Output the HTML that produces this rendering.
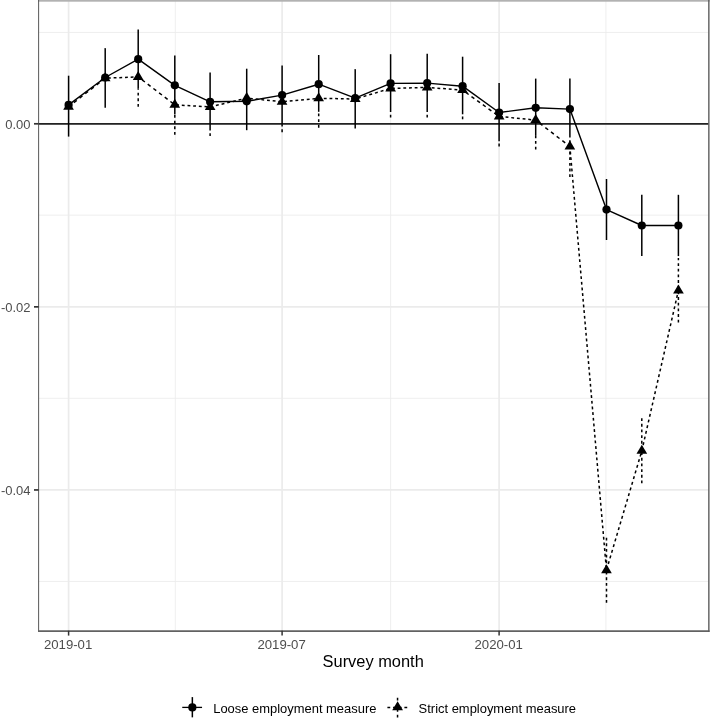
<!DOCTYPE html>
<html><head><meta charset="utf-8"><title>Survey month chart</title>
<style>html,body{margin:0;padding:0;background:#fff}body{width:710px;height:719px;overflow:hidden}</style></head>
<body>
<svg width="710" height="719" viewBox="0 0 710 719" style="display:block;font-family:'Liberation Sans',sans-serif">
<rect x="0" y="0" width="710" height="719" fill="#fff"/>
<line x1="38.7" x2="708.7" y1="32.45" y2="32.45" stroke="#ebebeb" stroke-width="0.85"/>
<line x1="38.7" x2="708.7" y1="215.15" y2="215.15" stroke="#ebebeb" stroke-width="0.85"/>
<line x1="38.7" x2="708.7" y1="398.3" y2="398.3" stroke="#ebebeb" stroke-width="0.85"/>
<line x1="38.7" x2="708.7" y1="581.45" y2="581.45" stroke="#ebebeb" stroke-width="0.85"/>
<line x1="38.7" x2="708.7" y1="123.8" y2="123.8" stroke="#ebebeb" stroke-width="1.7"/>
<line x1="38.7" x2="708.7" y1="306.85" y2="306.85" stroke="#ebebeb" stroke-width="1.7"/>
<line x1="38.7" x2="708.7" y1="489.95" y2="489.95" stroke="#ebebeb" stroke-width="1.7"/>
<line x1="175.3" x2="175.3" y1="0.8" y2="630.7" stroke="#ebebeb" stroke-width="0.85"/>
<line x1="390.6" x2="390.6" y1="0.8" y2="630.7" stroke="#ebebeb" stroke-width="0.85"/>
<line x1="605.9" x2="605.9" y1="0.8" y2="630.7" stroke="#ebebeb" stroke-width="0.85"/>
<line x1="68.6" x2="68.6" y1="0.8" y2="630.7" stroke="#ebebeb" stroke-width="1.7"/>
<line x1="282.1" x2="282.1" y1="0.8" y2="630.7" stroke="#ebebeb" stroke-width="1.7"/>
<line x1="499.1" x2="499.1" y1="0.8" y2="630.7" stroke="#ebebeb" stroke-width="1.7"/>
<line x1="38.7" x2="708.7" y1="123.8" y2="123.8" stroke="#222" stroke-width="1.65"/>
<line x1="105.2" x2="105.2" y1="48.3" y2="48" stroke="#000" stroke-width="1.5" stroke-dasharray="2.832 2.832" stroke-dashoffset="2.06"/>
<line x1="138.2" x2="138.2" y1="106.8" y2="88.2" stroke="#000" stroke-width="1.5" stroke-dasharray="2.832 2.832"/>
<line x1="174.8" x2="174.8" y1="134.8" y2="114.5" stroke="#000" stroke-width="1.5" stroke-dasharray="2.832 2.832"/>
<line x1="210.1" x2="210.1" y1="136.0" y2="130.4" stroke="#000" stroke-width="1.5" stroke-dasharray="2.832 2.832"/>
<line x1="246.7" x2="246.7" y1="68.7" y2="68" stroke="#000" stroke-width="1.5" stroke-dasharray="2.832 2.832" stroke-dashoffset="3.66"/>
<line x1="282.1" x2="282.1" y1="132.2" y2="124.2" stroke="#000" stroke-width="1.5" stroke-dasharray="2.832 2.832"/>
<line x1="318.7" x2="318.7" y1="127.7" y2="111.8" stroke="#000" stroke-width="1.5" stroke-dasharray="2.832 2.832"/>
<line x1="355.2" x2="355.2" y1="69.2" y2="69" stroke="#000" stroke-width="1.5" stroke-dasharray="2.832 2.832" stroke-dashoffset="2.16"/>
<line x1="390.6" x2="390.6" y1="117.6" y2="111.0" stroke="#000" stroke-width="1.5" stroke-dasharray="2.832 2.832"/>
<line x1="427.2" x2="427.2" y1="117.6" y2="111.0" stroke="#000" stroke-width="1.5" stroke-dasharray="2.832 2.832"/>
<line x1="462.6" x2="462.6" y1="119.3" y2="114.3" stroke="#000" stroke-width="1.5" stroke-dasharray="2.832 2.832"/>
<line x1="499.1" x2="499.1" y1="146.4" y2="141.3" stroke="#000" stroke-width="1.5" stroke-dasharray="2.832 2.832"/>
<line x1="535.7" x2="535.7" y1="149.5" y2="135.9" stroke="#000" stroke-width="1.5" stroke-dasharray="2.832 2.832"/>
<line x1="569.9" x2="569.9" y1="177.1" y2="137.4" stroke="#000" stroke-width="1.5" stroke-dasharray="2.832 2.832"/>
<line x1="606.5" x2="606.5" y1="602.8" y2="536.7" stroke="#000" stroke-width="1.5" stroke-dasharray="2.832 2.832"/>
<line x1="641.8" x2="641.8" y1="483.3" y2="418.0" stroke="#000" stroke-width="1.5" stroke-dasharray="2.832 2.832"/>
<line x1="678.4" x2="678.4" y1="322.6" y2="258.0" stroke="#000" stroke-width="1.5" stroke-dasharray="2.832 2.832"/>
<line x1="68.6" x2="68.6" y1="75.7" y2="136.6" stroke="#000" stroke-width="1.5"/>
<line x1="105.2" x2="105.2" y1="48.3" y2="107.8" stroke="#000" stroke-width="1.5"/>
<line x1="138.2" x2="138.2" y1="29.6" y2="88.2" stroke="#000" stroke-width="1.5"/>
<line x1="174.8" x2="174.8" y1="55.4" y2="114.5" stroke="#000" stroke-width="1.5"/>
<line x1="210.1" x2="210.1" y1="72.6" y2="130.4" stroke="#000" stroke-width="1.5"/>
<line x1="246.7" x2="246.7" y1="68.7" y2="130.2" stroke="#000" stroke-width="1.5"/>
<line x1="282.1" x2="282.1" y1="65.4" y2="124.2" stroke="#000" stroke-width="1.5"/>
<line x1="318.7" x2="318.7" y1="55.0" y2="111.8" stroke="#000" stroke-width="1.5"/>
<line x1="355.2" x2="355.2" y1="69.2" y2="128.5" stroke="#000" stroke-width="1.5"/>
<line x1="390.6" x2="390.6" y1="54.2" y2="111.0" stroke="#000" stroke-width="1.5"/>
<line x1="427.2" x2="427.2" y1="53.7" y2="111.0" stroke="#000" stroke-width="1.5"/>
<line x1="462.6" x2="462.6" y1="56.7" y2="114.3" stroke="#000" stroke-width="1.5"/>
<line x1="499.1" x2="499.1" y1="83.1" y2="141.3" stroke="#000" stroke-width="1.5"/>
<line x1="535.7" x2="535.7" y1="78.6" y2="135.9" stroke="#000" stroke-width="1.5"/>
<line x1="569.9" x2="569.9" y1="78.6" y2="137.4" stroke="#000" stroke-width="1.5"/>
<line x1="606.5" x2="606.5" y1="179.0" y2="240.0" stroke="#000" stroke-width="1.5"/>
<line x1="641.8" x2="641.8" y1="194.8" y2="256.1" stroke="#000" stroke-width="1.5"/>
<line x1="678.4" x2="678.4" y1="194.8" y2="256.1" stroke="#000" stroke-width="1.5"/>
<polyline points="68.6,104.9 105.2,77.5 138.2,59.2 174.8,85.3 210.1,101.8 246.7,101.3 282.1,95.1 318.7,84.2 355.2,98.2 390.6,83.4 427.2,83.1 462.6,86.2 499.1,112.5 535.7,107.8 569.9,109.1 606.5,209.6 641.8,225.5 678.4,225.5" fill="none" stroke="#000" stroke-width="1.42" stroke-linejoin="round"/>
<line x1="68.60" y1="106.70" x2="105.16" y2="78.20" stroke="#000" stroke-width="1.5" stroke-dasharray="3.601 3.601" stroke-dashoffset="0.494"/>
<line x1="105.16" y1="78.20" x2="138.19" y2="76.90" stroke="#000" stroke-width="1.5" stroke-dasharray="2.842 2.842" stroke-dashoffset="2.877"/>
<line x1="138.19" y1="76.90" x2="174.75" y2="104.80" stroke="#000" stroke-width="1.5" stroke-dasharray="3.572 3.572" stroke-dashoffset="2.290"/>
<line x1="174.75" y1="104.80" x2="210.14" y2="106.90" stroke="#000" stroke-width="1.5" stroke-dasharray="2.845 2.845" stroke-dashoffset="4.313"/>
<line x1="210.14" y1="106.90" x2="246.70" y2="98.10" stroke="#000" stroke-width="1.5" stroke-dasharray="2.921 2.921" stroke-dashoffset="5.770"/>
<line x1="246.70" y1="98.10" x2="282.09" y2="101.80" stroke="#000" stroke-width="1.5" stroke-dasharray="2.855 2.855" stroke-dashoffset="2.428"/>
<line x1="282.09" y1="101.80" x2="318.65" y2="98.30" stroke="#000" stroke-width="1.5" stroke-dasharray="2.853 2.853" stroke-dashoffset="3.737"/>
<line x1="318.65" y1="98.30" x2="355.22" y2="99.00" stroke="#000" stroke-width="1.5" stroke-dasharray="2.841 2.841" stroke-dashoffset="0.524"/>
<line x1="355.22" y1="99.00" x2="390.60" y2="88.40" stroke="#000" stroke-width="1.5" stroke-dasharray="2.965 2.965" stroke-dashoffset="3.141"/>
<line x1="390.60" y1="88.40" x2="427.17" y2="87.40" stroke="#000" stroke-width="1.5" stroke-dasharray="2.841 2.841" stroke-dashoffset="4.315"/>
<line x1="427.17" y1="87.40" x2="462.55" y2="90.10" stroke="#000" stroke-width="1.5" stroke-dasharray="2.848 2.848" stroke-dashoffset="1.121"/>
<line x1="462.55" y1="90.10" x2="499.12" y2="116.40" stroke="#000" stroke-width="1.5" stroke-dasharray="3.498 3.498" stroke-dashoffset="2.985"/>
<line x1="499.12" y1="116.40" x2="535.68" y2="120.10" stroke="#000" stroke-width="1.5" stroke-dasharray="2.855 2.855" stroke-dashoffset="4.933"/>
<line x1="535.68" y1="120.10" x2="569.89" y2="146.50" stroke="#000" stroke-width="1.5" stroke-dasharray="3.587 3.587" stroke-dashoffset="2.163"/>
<line x1="569.89" y1="146.50" x2="606.45" y2="570.20" stroke="#000" stroke-width="1.5" stroke-dasharray="2.843 2.843" stroke-dashoffset="0.606"/>
<line x1="606.45" y1="570.20" x2="641.84" y2="450.80" stroke="#000" stroke-width="1.5" stroke-dasharray="2.954 2.954" stroke-dashoffset="5.390"/>
<line x1="641.84" y1="450.80" x2="678.40" y2="290.50" stroke="#000" stroke-width="1.5" stroke-dasharray="2.905 2.905" stroke-dashoffset="5.768"/>
<circle cx="68.6" cy="104.9" r="4.1" fill="#000"/>
<circle cx="105.2" cy="77.5" r="4.1" fill="#000"/>
<circle cx="138.2" cy="59.2" r="4.1" fill="#000"/>
<circle cx="174.8" cy="85.3" r="4.1" fill="#000"/>
<circle cx="210.1" cy="101.8" r="4.1" fill="#000"/>
<circle cx="246.7" cy="101.3" r="4.1" fill="#000"/>
<circle cx="282.1" cy="95.1" r="4.1" fill="#000"/>
<circle cx="318.7" cy="84.2" r="4.1" fill="#000"/>
<circle cx="355.2" cy="98.2" r="4.1" fill="#000"/>
<circle cx="390.6" cy="83.4" r="4.1" fill="#000"/>
<circle cx="427.2" cy="83.1" r="4.1" fill="#000"/>
<circle cx="462.6" cy="86.2" r="4.1" fill="#000"/>
<circle cx="499.1" cy="112.5" r="4.1" fill="#000"/>
<circle cx="535.7" cy="107.8" r="4.1" fill="#000"/>
<circle cx="569.9" cy="109.1" r="4.1" fill="#000"/>
<circle cx="606.5" cy="209.6" r="4.1" fill="#000"/>
<circle cx="641.8" cy="225.5" r="4.1" fill="#000"/>
<circle cx="678.4" cy="225.5" r="4.1" fill="#000"/>
<polygon points="68.6,100.7 63.2,109.7 73.9,109.7" fill="#000"/>
<polygon points="105.2,72.2 99.8,81.2 110.5,81.2" fill="#000"/>
<polygon points="138.2,70.9 132.8,79.9 143.5,79.9" fill="#000"/>
<polygon points="174.8,98.8 169.4,107.8 180.1,107.8" fill="#000"/>
<polygon points="210.1,100.9 204.8,109.9 215.5,109.9" fill="#000"/>
<polygon points="246.7,92.1 241.4,101.1 252.1,101.1" fill="#000"/>
<polygon points="282.1,95.8 276.7,104.8 287.4,104.8" fill="#000"/>
<polygon points="318.7,92.3 313.3,101.3 324.0,101.3" fill="#000"/>
<polygon points="355.2,93.0 349.9,102.0 360.6,102.0" fill="#000"/>
<polygon points="390.6,82.4 385.3,91.4 396.0,91.4" fill="#000"/>
<polygon points="427.2,81.4 421.8,90.4 432.5,90.4" fill="#000"/>
<polygon points="462.6,84.1 457.2,93.1 467.9,93.1" fill="#000"/>
<polygon points="499.1,110.4 493.8,119.4 504.5,119.4" fill="#000"/>
<polygon points="535.7,114.1 530.3,123.1 541.0,123.1" fill="#000"/>
<polygon points="569.9,140.5 564.5,149.5 575.2,149.5" fill="#000"/>
<polygon points="606.5,564.2 601.1,573.2 611.8,573.2" fill="#000"/>
<polygon points="641.8,444.8 636.5,453.8 647.2,453.8" fill="#000"/>
<polygon points="678.4,284.5 673.1,293.5 683.8,293.5" fill="#000"/>
<rect x="38.1" y="0" width="671.6" height="1.7" fill="#b2b2b2"/>
<line x1="38.62" x2="38.62" y1="0" y2="631.9" stroke="#585858" stroke-width="1.0"/>
<line x1="38.1" x2="709.55" y1="631.1" y2="631.1" stroke="#626262" stroke-width="1.65"/>
<line x1="708.85" x2="708.85" y1="0" y2="631.9" stroke="#5c5c5c" stroke-width="1.4"/>
<line x1="34.0" x2="38.7" y1="123.8" y2="123.8" stroke="#333" stroke-width="1.7"/>
<line x1="34.0" x2="38.7" y1="306.85" y2="306.85" stroke="#333" stroke-width="1.7"/>
<line x1="34.0" x2="38.7" y1="489.95" y2="489.95" stroke="#333" stroke-width="1.7"/>
<line x1="68.6" x2="68.6" y1="630.7" y2="635.6" stroke="#333" stroke-width="1.5"/>
<line x1="282.1" x2="282.1" y1="630.7" y2="635.6" stroke="#333" stroke-width="1.5"/>
<line x1="499.1" x2="499.1" y1="630.7" y2="635.6" stroke="#333" stroke-width="1.5"/>
<text x="30.55" y="129.30" text-anchor="end" font-size="13" fill="#4d4d4d">0.00</text>
<text x="30.55" y="312.35" text-anchor="end" font-size="13" fill="#4d4d4d">-0.02</text>
<text x="30.55" y="495.45" text-anchor="end" font-size="13" fill="#4d4d4d">-0.04</text>
<text x="68.1" y="648.85" text-anchor="middle" font-size="13.2" fill="#4d4d4d">2019-01</text>
<text x="281.6" y="648.85" text-anchor="middle" font-size="13.2" fill="#4d4d4d">2019-07</text>
<text x="498.7" y="648.85" text-anchor="middle" font-size="13.2" fill="#4d4d4d">2020-01</text>
<text x="373.2" y="667.45" text-anchor="middle" font-size="16.42" fill="#000">Survey month</text>
<line x1="182.25" x2="202.05" y1="707.4" y2="707.4" stroke="#000" stroke-width="1.3"/>
<line x1="192.35" x2="192.35" y1="697.1" y2="717.35" stroke="#000" stroke-width="1.5"/>
<circle cx="192.35" cy="707.4" r="4.1" fill="#000"/>
<text x="213.2" y="712.75" font-size="12.95" fill="#000">Loose employment measure</text>
<line x1="387.4" x2="407.55" y1="707.45" y2="707.45" stroke="#000" stroke-width="1.4" stroke-dasharray="2.832 2.832"/>
<line x1="397.55" x2="397.55" y1="717.5" y2="697.65" stroke="#000" stroke-width="1.5" stroke-dasharray="2.832 2.832"/>
<polygon points="397.6,701.3 392.2,710.3 403.0,710.3" fill="#000"/>
<text x="418.6" y="712.75" font-size="12.95" fill="#000">Strict employment measure</text>
</svg>
</body></html>
